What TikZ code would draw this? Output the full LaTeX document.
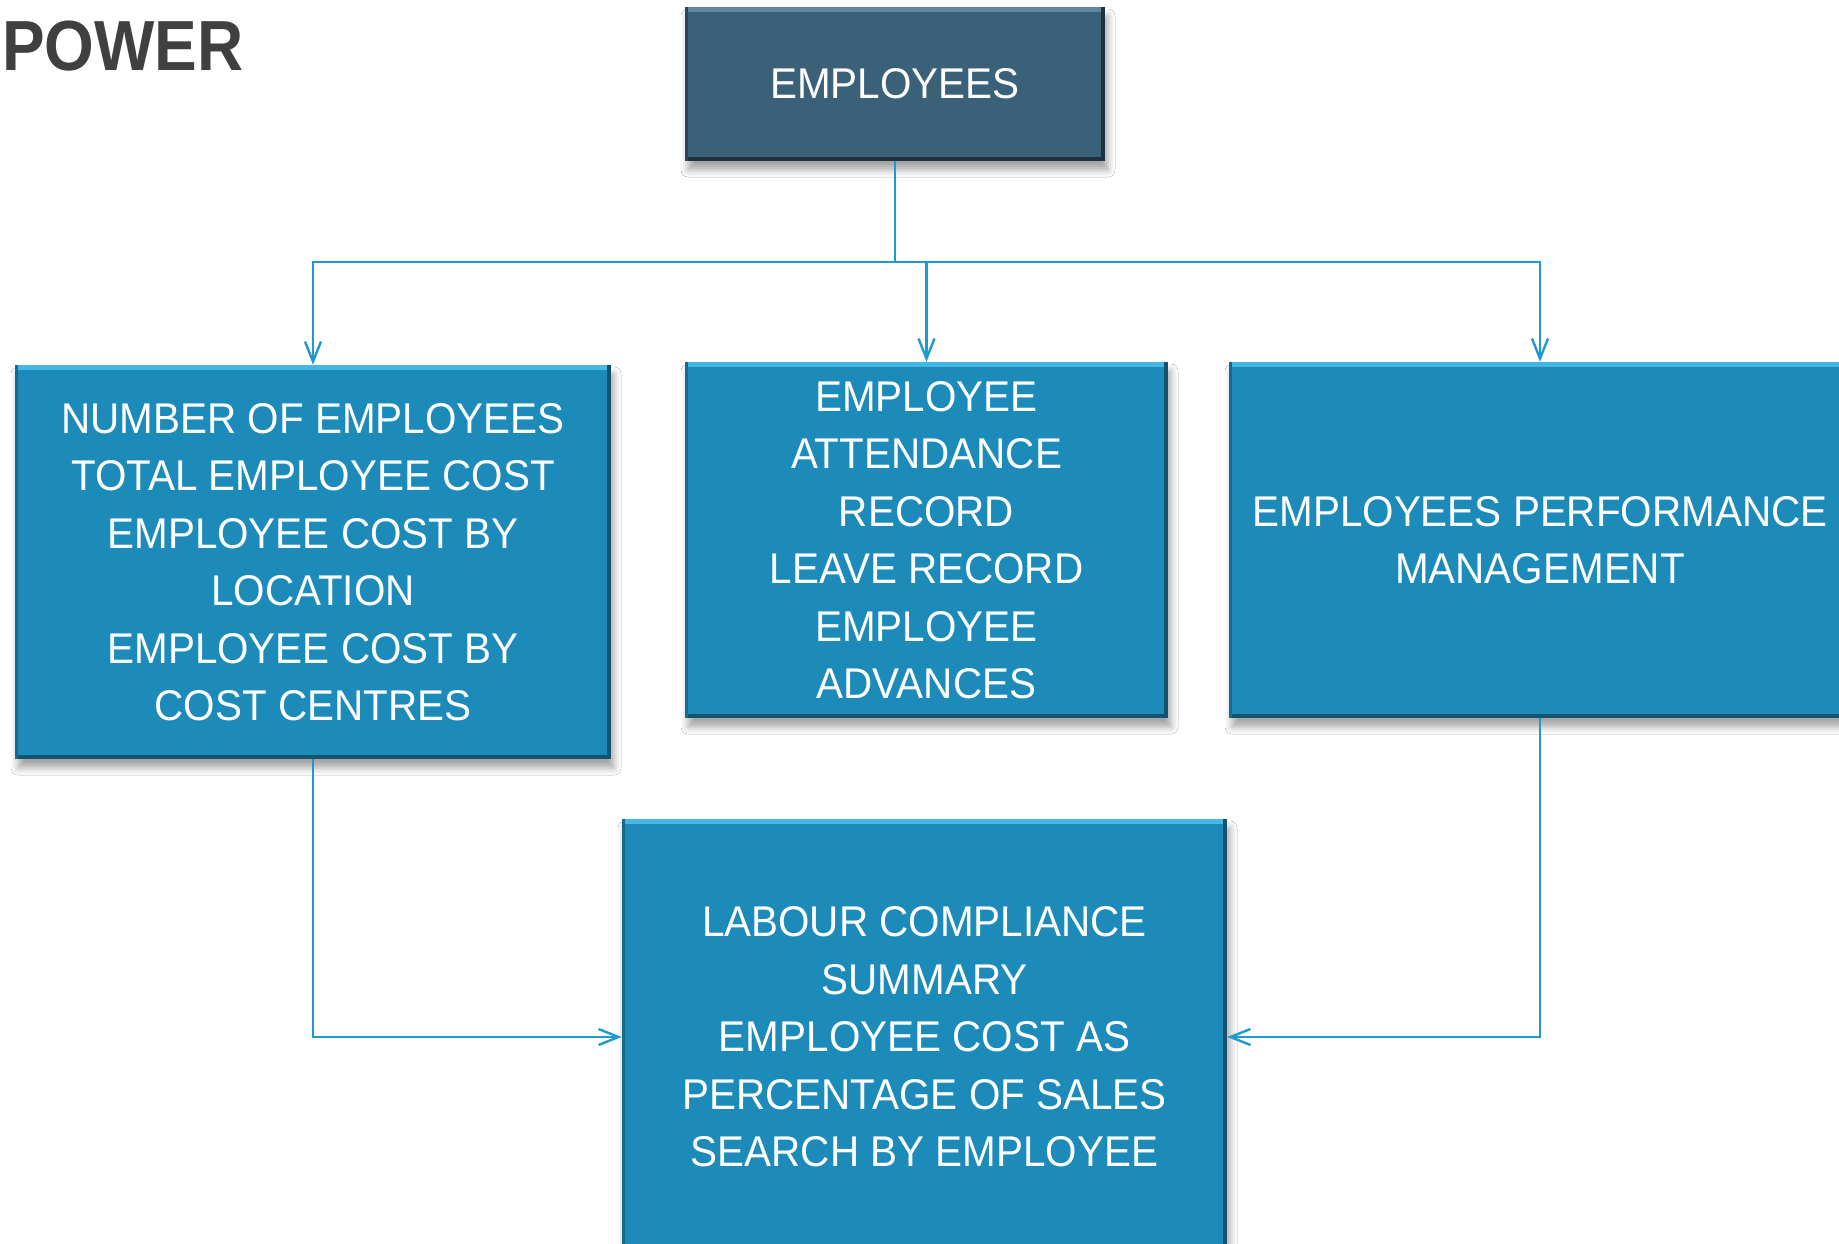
\documentclass[tikz,border=0pt]{standalone}
\usepackage{fontspec}
\setmainfont{Liberation Sans}[FakeStretch=0.94]
\newfontfamily\powerfont{Liberation Sans}[FakeStretch=0.9]
\usetikzlibrary{arrows.meta,shadows.blur}
\definecolor{boxblue}{RGB}{28,139,185}
\definecolor{boxlight}{RGB}{70,182,228}
\definecolor{boxdark}{RGB}{20,82,112}
\definecolor{topblue}{RGB}{59,97,121}
\definecolor{toplight}{RGB}{95,135,160}
\definecolor{topdark}{RGB}{30,50,64}
\definecolor{linkblue}{RGB}{30,154,208}
\definecolor{powergray}{RGB}{64,64,64}
\tikzset{
  bevelbox/.style n args={3}{rectangle, inner sep=0pt, fill=#1, text=white,
    align=center, font=\fontsize{43}{57.5}\selectfont,
    blur shadow={shadow xshift=3pt, shadow yshift=-9pt, shadow blur radius=7pt, shadow opacity=35},
    path picture={
      \fill[#2] (path picture bounding box.north west) rectangle ([yshift=-5pt]path picture bounding box.north east);
      \fill[#3] (path picture bounding box.south west) rectangle ([yshift=4pt]path picture bounding box.south east);
      \fill[#3] ([xshift=-4pt]path picture bounding box.south east) rectangle (path picture bounding box.north east);
      \fill[#3!60!#1] (path picture bounding box.south west) rectangle ([xshift=3pt]path picture bounding box.north west);
    }},
  infobox/.style={bevelbox={boxblue}{boxlight}{boxdark}},
  headbox/.style={bevelbox={topblue}{toplight}{topdark}},
  link/.style={draw=linkblue, line width=2.6pt, -{Straight Barb[length=20pt,width=16pt,line width=2.4pt]}},
  linkplain/.style={draw=linkblue, line width=2.6pt}
}
\begin{document}
\begin{tikzpicture}[x=1pt,y=-1pt]
\useasboundingbox (0,0) rectangle (1839,1244);
\clip (0,0) rectangle (1839,1244);
\fill[white] (0,0) rectangle (1839,1244);

\node[anchor=base west, inner sep=0pt, text=powergray, font=\powerfont\bfseries\fontsize{71}{80}\selectfont] (title) at (2,71) {POWER};

\node[headbox, minimum width=420pt, minimum height=154pt] (emp) at (895,84) {EMPLOYEES};

\node[infobox, minimum width=596pt, minimum height=394pt] (left) at (313,562)
  {NUMBER OF EMPLOYEES\\TOTAL EMPLOYEE COST\\EMPLOYEE COST BY\\LOCATION\\EMPLOYEE COST BY\\COST CENTRES};

\node[infobox, minimum width=483pt, minimum height=356pt] (mid) at (926.5,540)
  {EMPLOYEE\\ATTENDANCE\\RECORD\\LEAVE RECORD\\EMPLOYEE\\ADVANCES};

\node[infobox, minimum width=622pt, minimum height=356pt] (right) at (1540,540)
  {EMPLOYEES PERFORMANCE\\MANAGEMENT};

\node[infobox, minimum width=605pt, minimum height=436pt] (bottom) at (924.5,1037)
  {LABOUR COMPLIANCE\\SUMMARY\\EMPLOYEE COST AS\\PERCENTAGE OF SALES\\SEARCH BY EMPLOYEE};

\coordinate (j) at (895,262);
\draw[linkplain] (emp.south) -- (j);
\draw[link] (j) -| (left.north);
\draw[link] (j) -| (mid.north);
\draw[link] (j) -| (right.north);

\draw[link] (left.south) |- (bottom.west);
\draw[link] (right.south) |- (bottom.east);
\end{tikzpicture}
\end{document}
